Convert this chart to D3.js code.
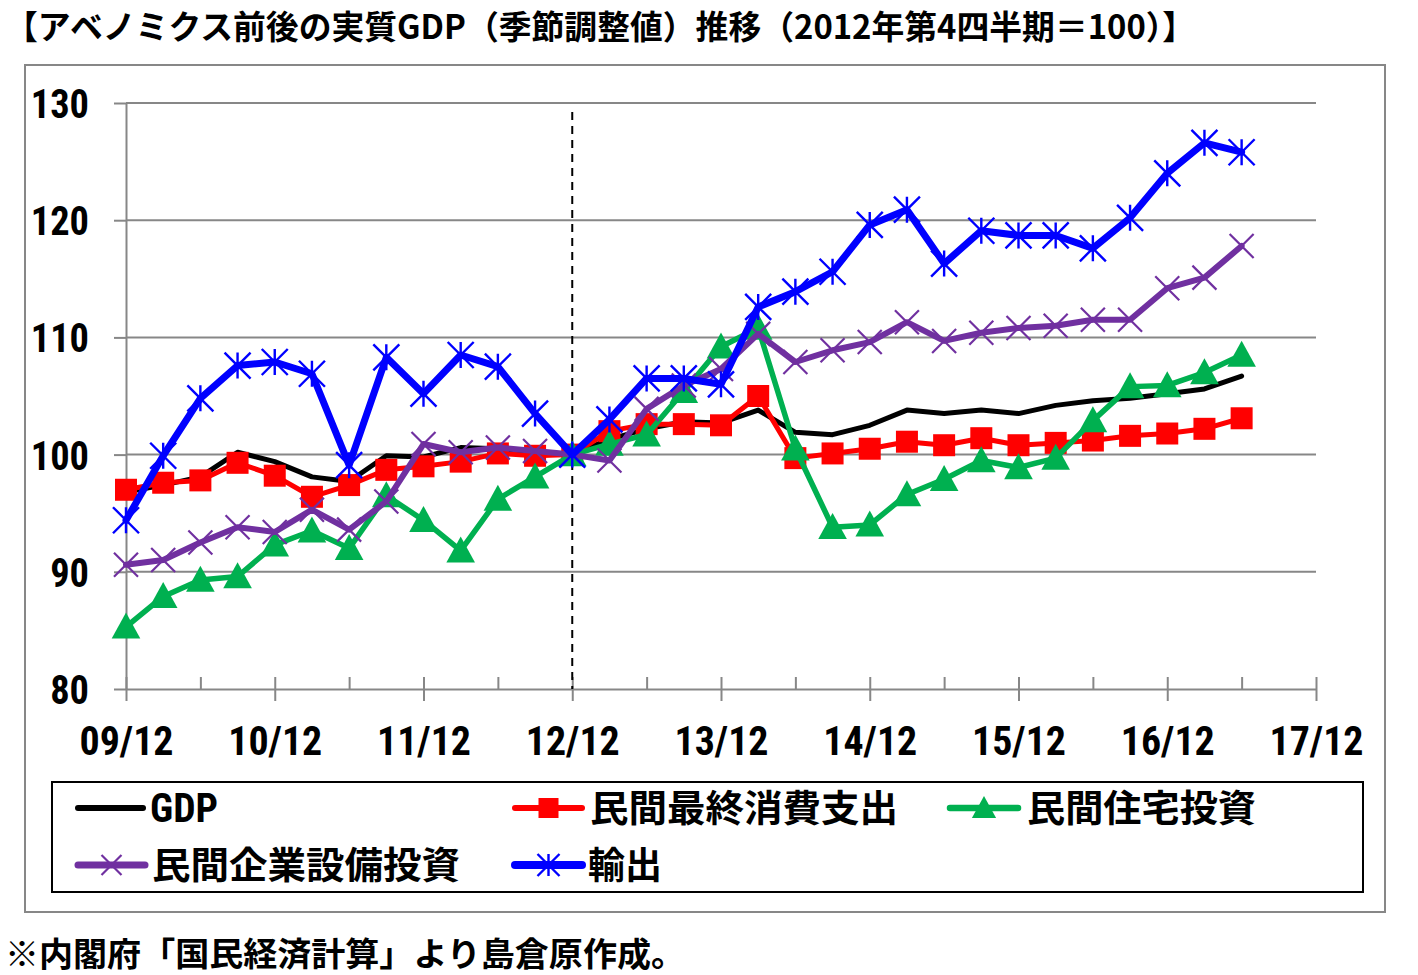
<!DOCTYPE html>
<html><head><meta charset="utf-8">
<script src="https://cdn.jsdelivr.net/npm/d3@7"></script>
<style>
html,body{margin:0;padding:0;background:#fff;}
svg{display:block;}
</style></head>
<body>
<svg id="chart" width="1418" height="975"></svg>
<script>
// ---- data ----
const xTickLabels = ["09/12","10/12","11/12","12/12","13/12","14/12","15/12","16/12","17/12"];
const yTickValues = [80,90,100,110,120,130];
const seriesNames = ["GDP","民間最終消費支出","民間住宅投資","民間企業設備投資","輸出"];
const gdp = [96.8,97.4,98.1,100.2,99.4,98.1,97.7,99.9,99.8,100.6,100.5,100.2,100.0,101.3,102.2,102.8,102.7,103.8,101.9,101.7,102.5,103.8,103.5,103.8,103.5,104.2,104.6,104.8,105.2,105.6,106.7];
const consumption = [97.0,97.6,97.8,99.3,98.2,96.4,97.4,98.7,99.0,99.4,100.1,99.9,100.0,102.0,102.6,102.6,102.5,105.0,99.7,100.1,100.5,101.1,100.8,101.4,100.8,101.0,101.2,101.6,101.8,102.2,103.1];
const housing = [85.3,87.9,89.3,89.6,92.3,93.5,92.0,96.5,94.4,91.8,96.2,98.1,100.0,100.9,101.7,105.4,109.2,110.8,100.5,93.8,94.0,96.6,97.9,99.5,98.9,99.7,102.9,105.8,105.9,107.0,108.5];
const capex = [90.6,91.0,92.5,93.8,93.4,95.3,93.6,96.0,100.9,100.2,100.6,100.3,100.0,99.5,103.9,105.9,107.3,110.3,107.9,108.9,109.6,111.3,109.7,110.4,110.8,111.0,111.5,111.5,114.2,115.1,117.8];
const exportsV = [94.4,99.9,104.8,107.6,107.9,106.9,99.1,108.3,105.2,108.5,107.5,103.5,100.0,103.0,106.5,106.5,106.0,112.6,113.9,115.6,119.6,120.9,116.3,119.1,118.7,118.7,117.6,120.2,124.0,126.6,125.8];
const baseQuarterIndex = 12; // 2012Q4 = 100
const titleText = "【アベノミクス前後の実質GDP（季節調整値）推移（2012年第4四半期＝100）】";
const noteText = "※内閣府「国民経済計算」より島倉原作成。";

// ---- styles ----
const styles = [
  {color:"#000000", width:5,   marker:"none"},
  {color:"#FF0000", width:5,   marker:"square"},
  {color:"#00B050", width:5.5, marker:"triangle"},
  {color:"#7030A0", width:6,   marker:"x"},
  {color:"#0000FF", width:7,   marker:"star"}
];
const allSeries = [gdp, consumption, housing, capex, exportsV];

const svg = d3.select("#chart");
const JP = "'Noto Sans CJK JP','Noto Sans CJK SC',sans-serif";
const NARROW = "'Liberation Sans Narrow','Arial Narrow','Roboto Condensed','Liberation Sans',sans-serif";
const GRID = "#878787";

// outer frame
svg.append("rect").attr("x",25).attr("y",65).attr("width",1360).attr("height",847)
  .attr("fill","#fff").attr("stroke",GRID).attr("stroke-width",2);

// title
svg.append("text").attr("x",5).attr("y",39).attr("font-family",JP).attr("font-weight","bold")
  .attr("font-size",33).attr("textLength",1190).attr("lengthAdjust","spacingAndGlyphs")
  .attr("fill","#000").text(titleText);

// note
svg.append("text").attr("x",5).attr("y",966).attr("font-family",JP).attr("font-weight","bold")
  .attr("font-size",33).attr("textLength",680).attr("lengthAdjust","spacingAndGlyphs")
  .attr("fill","#000").text(noteText);

// scales
const x = d3.scaleLinear().domain([0,32]).range([126,1316]);
const y = d3.scaleLinear().domain([80,130]).range([689,103]);

// gridlines
svg.append("g").selectAll("line").data(yTickValues.filter(v=>v>80)).join("line")
  .attr("x1",x(0)).attr("x2",x(32)).attr("y1",d=>y(d)).attr("y2",d=>y(d))
  .attr("stroke",GRID).attr("stroke-width",2);

// y axis
const yAxis = svg.append("g").attr("transform",`translate(${x(0)},0)`)
  .call(d3.axisLeft(y).tickValues(yTickValues).tickSize(12).tickSizeOuter(0).tickPadding(25));
yAxis.select(".domain").attr("stroke",GRID).attr("stroke-width",2);
yAxis.selectAll(".tick line").attr("stroke",GRID).attr("stroke-width",2);
yAxis.selectAll(".tick text").attr("font-family",NARROW).attr("font-weight","bold").attr("font-size",40)
  .attr("fill","#000").attr("dy","0.36em")
  .attr("textLength",d=>String(d).length*19.4).attr("lengthAdjust","spacingAndGlyphs");

// x axis: minor (inside, every half year) + major (crossing, every year)
const minorVals = d3.range(0,33,2);
const majorVals = d3.range(0,33,4);
const xMinor = svg.append("g").attr("transform",`translate(0,${y(80)})`)
  .call(d3.axisTop(x).tickValues(minorVals).tickSize(12).tickSizeOuter(0).tickFormat(""));
xMinor.select(".domain").attr("stroke",GRID).attr("stroke-width",2);
xMinor.selectAll(".tick line").attr("stroke",GRID).attr("stroke-width",2);
const xMajor = svg.append("g").attr("transform",`translate(0,${y(80)})`)
  .call(d3.axisBottom(x).tickValues(majorVals).tickSize(12).tickSizeOuter(0)
    .tickFormat(d=>xTickLabels[d/4]).tickPadding(26));
xMajor.select(".domain").remove();
xMajor.selectAll(".tick line").attr("stroke",GRID).attr("stroke-width",2);
xMajor.selectAll(".tick text").attr("font-family",NARROW).attr("font-weight","bold").attr("font-size",40)
  .attr("fill","#000").attr("textLength",94).attr("lengthAdjust","spacingAndGlyphs");

// dashed base line at 12/12
svg.append("line").attr("x1",x(baseQuarterIndex)).attr("x2",x(baseQuarterIndex))
  .attr("y1",112).attr("y2",y(80)).attr("stroke","#000").attr("stroke-width",2)
  .attr("stroke-dasharray","8,6");

// markers
function drawMarker(g, type, cx, cy, color, s){
  if(type==="square"){
    g.append("rect").attr("x",cx-s/2).attr("y",cy-s/2).attr("width",s).attr("height",s).attr("fill",color);
  } else if(type==="triangle"){
    g.append("path").attr("d",`M${cx},${cy-s*0.55}L${cx+s*0.55},${cy+s*0.45}L${cx-s*0.55},${cy+s*0.45}Z`).attr("fill",color);
  } else if(type==="x"){
    const h=s/2;
    g.append("path").attr("d",`M${cx-h},${cy-h}L${cx+h},${cy+h}M${cx-h},${cy+h}L${cx+h},${cy-h}`)
      .attr("stroke",color).attr("stroke-width",2.2).attr("fill","none");
  } else if(type==="star"){
    const h=s/2;
    g.append("path").attr("d",`M${cx-h},${cy-h}L${cx+h},${cy+h}M${cx-h},${cy+h}L${cx+h},${cy-h}M${cx},${cy-h}L${cx},${cy+h}`)
      .attr("stroke",color).attr("stroke-width",2.4).attr("fill","none");
  }
}
const markerSize = {square:22, triangle:26, x:24, star:26};

// series
const line = d3.line().x((d,i)=>x(i)).y(d=>y(d));
allSeries.forEach((vals,k)=>{
  const st = styles[k];
  const g = svg.append("g");
  g.append("path").datum(vals).attr("d",line).attr("fill","none")
    .attr("stroke",st.color).attr("stroke-width",st.width).attr("stroke-linejoin","round").attr("stroke-linecap","round");
  if(st.marker!=="none"){
    vals.forEach((v,i)=>drawMarker(g, st.marker, x(i), y(v), st.color, markerSize[st.marker]));
  }
});

// legend
svg.append("rect").attr("x",52).attr("y",782).attr("width",1311).attr("height",110)
  .attr("fill","#fff").attr("stroke","#000").attr("stroke-width",2);
const legendItems = [
  {k:0, x1:78,  x2:143, ty:808, tx:150, tl:68},
  {k:1, x1:515, x2:582, ty:808, tx:590, tl:308},
  {k:2, x1:950, x2:1018,ty:808, tx:1027,tl:229},
  {k:3, x1:78,  x2:145, ty:865, tx:152, tl:308},
  {k:4, x1:515, x2:582, ty:865, tx:588, tl:74}
];
const legendMarkerSize = {square:20, triangle:22, x:20, star:22};
legendItems.forEach(it=>{
  const st = styles[it.k];
  const g = svg.append("g");
  g.append("line").attr("x1",it.x1).attr("x2",it.x2).attr("y1",it.ty).attr("y2",it.ty)
    .attr("stroke",st.color).attr("stroke-width",st.width+1).attr("stroke-linecap","round");
  if(st.marker!=="none") drawMarker(g, st.marker, (it.x1+it.x2)/2, it.ty, st.color, legendMarkerSize[st.marker]);
  const isLatin = it.k===0;
  g.append("text").attr("x",it.tx).attr("y",it.ty+14)
    .attr("font-family",isLatin?NARROW:JP).attr("font-weight","bold")
    .attr("font-size",isLatin?40:37).attr("fill","#000")
    .attr("textLength",it.tl).attr("lengthAdjust","spacingAndGlyphs")
    .text(seriesNames[it.k]);
});
</script>
</body></html>
